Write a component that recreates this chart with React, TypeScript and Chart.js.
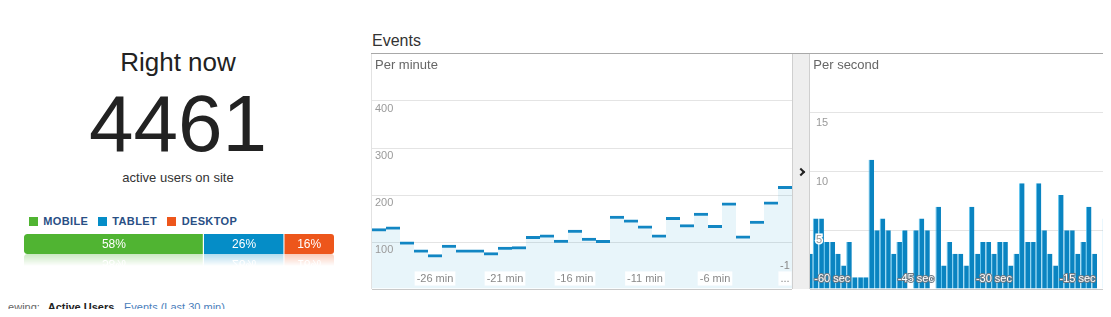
import React, { useEffect, useRef } from 'react';
import { Chart, registerables } from 'chart.js';

Chart.register(...registerables);

const FONT = '"Liberation Sans", Arial, Helvetica, sans-serif';
Chart.defaults.font.family = FONT;

// ---- Data ----
const minuteCategories = [
  '-30', '-29', '-28', '-27', '-26', '-25', '-24', '-23', '-22', '-21',
  '-20', '-19', '-18', '-17', '-16', '-15', '-14', '-13', '-12', '-11',
  '-10', '-9', '-8', '-7', '-6', '-5', '-4', '-3', '-2', '-1',
];
const minuteEvents = [
  129, 133, 101, 84, 74, 94, 84, 84, 78, 90,
  91, 113, 116, 105, 126, 109, 104, 156, 148, 135,
  116, 153, 138, 162, 136, 184, 114, 145, 186, 219,
];
const minuteTickValues = [100, 200, 300, 400];
const minuteMax = 500;

const secondEvents = [
  3, 6, 6, 4, 4, 3, 2, 4, 1, 1,
  1, 11, 5, 6, 5, 3, 4, 5, 0, 5,
  6, 5, 0, 7, 2, 4, 3, 3, 2, 7,
  3, 4, 4, 3, 4, 4, 2, 3, 9, 4,
  4, 9, 5, 3, 2, 8, 5, 5, 3, 4,
  7, 3, 0, 6, 3,
];
const secondTickIndex = [4, 19, 33, 48];
const secondTickText = ['-60 sec', '-45 sec', '-30 sec', '-15 sec'];
const secondTickValues = [5, 10, 15];
const secondMax = 20;

const deviceLabels = ['MOBILE', 'TABLET', 'DESKTOP'];
const deviceShares = [58, 26, 16];
const deviceColors = ['#50B432', '#058DC7', '#ED561B'];

// ---- Helpers ----
const LAST_MIN = minuteCategories.length - 1;
const minuteTickLabel = (i: number): string => {
  if (i === LAST_MIN) return '...';
  return i % 5 === 4 ? `${minuteCategories[i]} min` : '';
};

const zeroFitX = (s: any) => {
  s.height = 0;
  s.paddingLeft = 0;
  s.paddingRight = 0;
};
const zeroFitY = (s: any) => {
  s.width = 0;
  s.paddingTop = 0;
  s.paddingBottom = 0;
};

function PerMinuteChart() {
  const ref = useRef<HTMLCanvasElement>(null);
  useEffect(() => {
    const chart = new Chart(ref.current as HTMLCanvasElement, {
      type: 'bar',
      data: {
        labels: minuteCategories,
        datasets: [
          {
            data: minuteEvents,
            backgroundColor: 'rgba(5,141,199,0.09)',
            borderColor: '#1286c3',
            borderWidth: { top: 3, left: 0, right: 0, bottom: 0 },
            barPercentage: 1,
            categoryPercentage: 1,
            inflateAmount: 0,
          } as any,
        ],
      },
      options: {
        animation: false,
        responsive: false,
        maintainAspectRatio: false,
        events: [],
        layout: { padding: { bottom: 1 } },
        plugins: { legend: { display: false }, tooltip: { enabled: false } },
        scales: {
          x: {
            offset: true,
            grid: { display: false, drawTicks: false },
            border: { display: true, color: '#c9c9c9', width: 1 },
            afterFit: zeroFitX,
            ticks: {
              z: 1,
              mirror: true,
              autoSkip: false,
              maxRotation: 0,
              minRotation: 0,
              padding: 3.4,
              color: '#888',
              font: { size: 11 },
              callback: (_v: any, i: number) => minuteTickLabel(i),
              showLabelBackdrop: (c: any) => c.index % 5 === 4,
              backdropColor: 'rgba(255,255,255,0.92)',
              backdropPadding: { left: 2, right: 2, top: 1, bottom: 0 },
            } as any,
          },
          x2: {
            type: 'category',
            position: 'bottom',
            offset: true,
            grid: { display: false, drawTicks: false },
            border: { display: false },
            afterFit: zeroFitX,
            ticks: {
              z: 1,
              mirror: true,
              autoSkip: false,
              maxRotation: 0,
              minRotation: 0,
              padding: 16.6,
              color: '#888',
              font: { size: 11 },
              callback: (_v: any, i: number) => (i === LAST_MIN ? minuteCategories[i] : ''),
            } as any,
          },
          y: {
            min: 0,
            max: minuteMax,
            afterFit: zeroFitY,
            grid: {
              drawTicks: false,
              color: (c: any) =>
                c.tick && minuteTickValues.includes(c.tick.value) ? '#e4e4e4' : 'rgba(0,0,0,0)',
            },
            border: { display: false },
            ticks: {
              stepSize: 100,
              mirror: true,
              padding: 3,
              labelOffset: 7.5,
              z: 1,
              color: '#9a9a9a',
              font: { size: 11 },
              callback: (v: any) => (minuteTickValues.includes(v) ? String(v) : ''),
            },
          },
        },
      } as any,
    });
    return () => chart.destroy();
  }, []);
  return (
    <canvas
      ref={ref}
      width={420}
      height={236}
      style={{ position: 'absolute', left: 372, top: 54, width: 420, height: 236 }}
    />
  );
}

function PerSecondChart() {
  const ref = useRef<HTMLCanvasElement>(null);
  useEffect(() => {
    const chart = new Chart(ref.current as HTMLCanvasElement, {
      type: 'bar',
      data: {
        labels: secondEvents.map((_, i) => String(i)),
        datasets: [
          {
            data: secondEvents,
            backgroundColor: '#0a84c1',
            borderColor: '#62c5ef',
            borderWidth: { left: 1, top: 0, right: 0, bottom: 0 },
            barPercentage: 1,
            categoryPercentage: 1,
            inflateAmount: 0,
          } as any,
        ],
      },
      options: {
        animation: false,
        responsive: false,
        maintainAspectRatio: false,
        events: [],
        layout: { padding: { bottom: 1 } },
        plugins: { legend: { display: false }, tooltip: { enabled: false } },
        scales: {
          x: {
            offset: false,
            grid: { display: false, drawTicks: false },
            border: { display: true, color: '#c9c9c9', width: 1 },
            afterFit: zeroFitX,
            ticks: {
              z: 1,
              mirror: true,
              autoSkip: false,
              maxRotation: 0,
              minRotation: 0,
              padding: 3.1,
              color: '#ffffff',
              font: { size: 11 },
              textStrokeColor: '#6e7a84',
              textStrokeWidth: 2,
              callback: (_v: any, i: number) => {
                const k = secondTickIndex.indexOf(i);
                return k >= 0 ? secondTickText[k] : '';
              },
            } as any,
          },
          y: {
            min: 0,
            max: secondMax,
            afterFit: zeroFitY,
            grid: {
              drawTicks: false,
              color: (c: any) =>
                c.tick && secondTickValues.includes(c.tick.value) ? '#e4e4e4' : 'rgba(0,0,0,0)',
            },
            border: { display: false },
            ticks: {
              stepSize: 5,
              mirror: true,
              padding: 6,
              labelOffset: 10,
              z: 1,
              color: '#9a9a9a',
              font: { size: 11 },
              textStrokeColor: '#ffffff',
              textStrokeWidth: 3,
              callback: (v: any) => (secondTickValues.includes(v) ? String(v) : ''),
            } as any,
          },
        },
      } as any,
    });
    return () => chart.destroy();
  }, []);
  return (
    <canvas
      ref={ref}
      width={301}
      height={236}
      style={{ position: 'absolute', left: 810, top: 54, width: 301, height: 236 }}
    />
  );
}

const segmentLabelPlugin = {
  id: 'segmentLabels',
  afterDatasetsDraw(chart: any) {
    const { ctx } = chart;
    ctx.save();
    ctx.font = `12px ${FONT}`;
    ctx.fillStyle = '#ffffff';
    ctx.textAlign = 'center';
    ctx.textBaseline = 'middle';
    chart.data.datasets.forEach((ds: any, i: number) => {
      const el = chart.getDatasetMeta(i).data[0];
      if (!el) return;
      const p = el.getProps(['x', 'base', 'y'], true);
      ctx.fillText(`${ds.data[0]}%`, (p.x + p.base) / 2, p.y + 0.5);
    });
    ctx.restore();
  },
};

function DeviceBar({ style }: { style: React.CSSProperties }) {
  const ref = useRef<HTMLCanvasElement>(null);
  useEffect(() => {
    const chart = new Chart(ref.current as HTMLCanvasElement, {
      type: 'bar',
      data: {
        labels: ['share'],
        datasets: deviceLabels.map((l, i) => ({
          label: l,
          data: [deviceShares[i]],
          backgroundColor: deviceColors[i],
          borderColor: '#ffffff',
          borderWidth: i < deviceLabels.length - 1 ? { right: 1, left: 0, top: 0, bottom: 0 } : 0,
          borderSkipped: false,
          borderRadius:
            i === 0
              ? { topLeft: 3, bottomLeft: 3, topRight: 0, bottomRight: 0 }
              : i === deviceLabels.length - 1
              ? { topLeft: 0, bottomLeft: 0, topRight: 3, bottomRight: 3 }
              : 0,
          barPercentage: 1,
          categoryPercentage: 1,
          inflateAmount: 0,
        })) as any,
      },
      options: {
        indexAxis: 'y',
        animation: false,
        responsive: false,
        maintainAspectRatio: false,
        events: [],
        layout: { padding: 0 },
        plugins: { legend: { display: false }, tooltip: { enabled: false } },
        scales: {
          x: { stacked: true, min: 0, max: 100, display: false },
          y: { stacked: true, display: false },
        },
      },
      plugins: [segmentLabelPlugin],
    });
    return () => chart.destroy();
  }, []);
  return <canvas ref={ref} width={310} height={20} style={{ width: 310, height: 20, display: 'block', ...style }} />;
}

const abs = (s: React.CSSProperties): React.CSSProperties => ({ position: 'absolute', whiteSpace: 'nowrap', ...s });

export default function App() {
  return (
    <div
      style={{
        position: 'relative',
        width: 1111,
        height: 317,
        margin: -8,
        overflow: 'hidden',
        background: '#ffffff',
        fontFamily: FONT,
      }}
    >
      {/* Left panel */}
      <div style={abs({ left: 0, width: 356, top: 48.7, fontSize: 26, lineHeight: '26px', textAlign: 'center', color: '#222' })}>
        Right now
      </div>
      <div style={abs({ left: 0, width: 356, top: 84, fontSize: 80, lineHeight: '80px', textAlign: 'center', color: '#222' })}>
        4461
      </div>
      <div style={abs({ left: 0, width: 356, top: 170.7, fontSize: 13, lineHeight: '13px', textAlign: 'center', color: '#333' })}>
        active users on site
      </div>

      {/* Legend */}
      {[
        { sq: 29.3, tx: 43.3 },
        { sq: 98.3, tx: 112.3 },
        { sq: 166.7, tx: 181.7 },
      ].map((p, i) => (
        <React.Fragment key={deviceLabels[i]}>
          <div style={abs({ left: p.sq, top: 217, width: 9, height: 9, background: deviceColors[i] })} />
          <div
            style={abs({
              left: p.tx,
              top: 216.4,
              fontSize: 11,
              lineHeight: '11px',
              fontWeight: 'bold',
              letterSpacing: '0.35px',
              color: '#294f85',
            })}
          >
            {deviceLabels[i]}
          </div>
        </React.Fragment>
      ))}

      {/* Device share bar and its reflection */}
      <div style={abs({ left: 24, top: 234, width: 310, height: 20 })}>
        <DeviceBar style={{}} />
      </div>
      <div
        style={abs({
          left: 24,
          top: 254,
          width: 310,
          height: 20,
          overflow: 'hidden',
          WebkitMaskImage: 'linear-gradient(to bottom, rgba(0,0,0,0.3) 0%, rgba(0,0,0,0) 60%)',
          maskImage: 'linear-gradient(to bottom, rgba(0,0,0,0.3) 0%, rgba(0,0,0,0) 60%)',
        } as React.CSSProperties)}
      >
        <DeviceBar style={{ transform: 'scaleY(-1)' }} />
      </div>

      {/* Viewing line */}
      <div style={abs({ left: -1.5, top: 301.7, fontSize: 11, lineHeight: '11px', color: '#666' })}>Viewing:</div>
      <div style={abs({ left: 47.7, top: 301.7, fontSize: 11, lineHeight: '11px', color: '#222', fontWeight: 'bold' })}>
        Active Users
      </div>
      <div style={abs({ left: 124, top: 301.7, fontSize: 11, lineHeight: '11px', color: '#4a7ebb' })}>
        Events (Last 30 min)
      </div>
      <div
        style={abs({
          left: 77,
          top: 314,
          width: 0,
          height: 0,
          borderLeft: '3px solid transparent',
          borderRight: '3px solid transparent',
          borderBottom: '3px solid #333',
        })}
      />

      {/* Events section */}
      <div style={abs({ left: 372, top: 33.2, fontSize: 16, lineHeight: '16px', color: '#333' })}>Events</div>
      <div style={abs({ left: 371, top: 53, width: 740, height: 1, background: '#a8a8a8' })} />
      <div style={abs({ left: 371, top: 54, width: 1, height: 235, background: '#e2e2e2' })} />

      <PerMinuteChart />
      <PerSecondChart />

      {/* Separator */}
      <div
        style={abs({
          left: 792,
          top: 54,
          width: 16,
          height: 235,
          background: '#eeeeee',
          borderLeft: '1px solid #cfcfcf',
          borderRight: '1px solid #cfcfcf',
        })}
      />
      <div
        style={abs({
          left: 797.5,
          top: 168.5,
          width: 4,
          height: 4,
          borderTop: '2px solid #222',
          borderRight: '2px solid #222',
          transform: 'rotate(45deg)',
        })}
      />

      <div style={abs({ left: 375, top: 57.7, fontSize: 13, lineHeight: '13px', color: '#666' })}>Per minute</div>
      <div style={abs({ left: 813.3, top: 57.7, fontSize: 13, lineHeight: '13px', color: '#666' })}>Per second</div>
    </div>
  );
}
